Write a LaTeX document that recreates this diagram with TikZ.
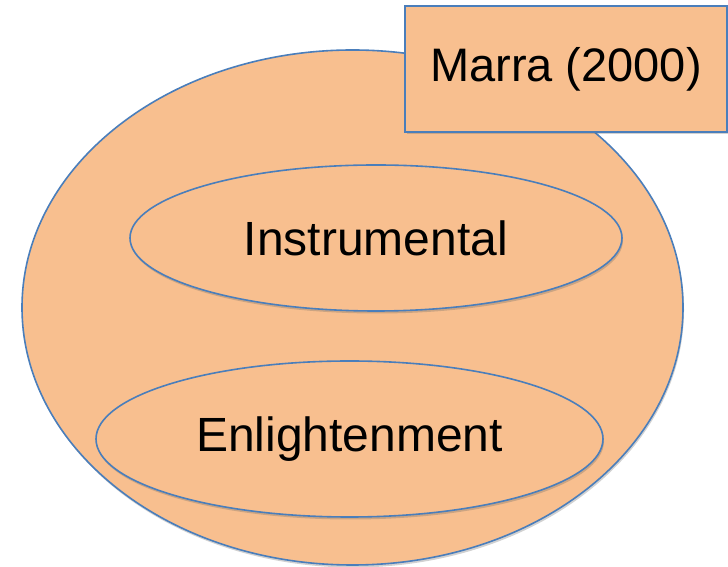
\documentclass[tikz,border=0pt]{standalone}
\usepackage{fontspec}
\setmainfont{Liberation Sans}
\usetikzlibrary{shapes.geometric,shadows}

\definecolor{peach}{HTML}{F8BF8F}
\definecolor{edgeblue}{HTML}{4A7EBB}

\begin{document}
\begin{tikzpicture}[x=1pt,y=1pt]

\tikzset{
  blob/.style={ellipse,fill=peach,draw=edgeblue,line width=1.6pt,inner sep=0pt,
    font=\fontsize{48}{50}\selectfont,
    drop shadow={shadow xshift=1pt,shadow yshift=-2.5pt,opacity=0.3,fill=black!60}},
  tag/.style={rectangle,fill=peach,draw=edgeblue,line width=1.6pt,inner sep=0pt,
    font=\fontsize{47}{50}\selectfont,
    drop shadow={shadow xshift=1.5pt,shadow yshift=-2.5pt,opacity=0.3,fill=black!60}}
}

\useasboundingbox (0,0) rectangle (728,567);

% outer circle
\node[blob,minimum width=661,minimum height=515] (outer) at (352.5,259.5) {};

% inner ellipses
\node[blob,minimum width=492,minimum height=146] (instr) at (376,329) {Instrumental};
\node[blob,minimum width=507,minimum height=156] (enl) at (349.5,128) {Enlightenment};

% source label
\node[tag,minimum width=322,minimum height=126] (marra) at (566,498) {Marra (2000)};

\end{tikzpicture}
\end{document}
